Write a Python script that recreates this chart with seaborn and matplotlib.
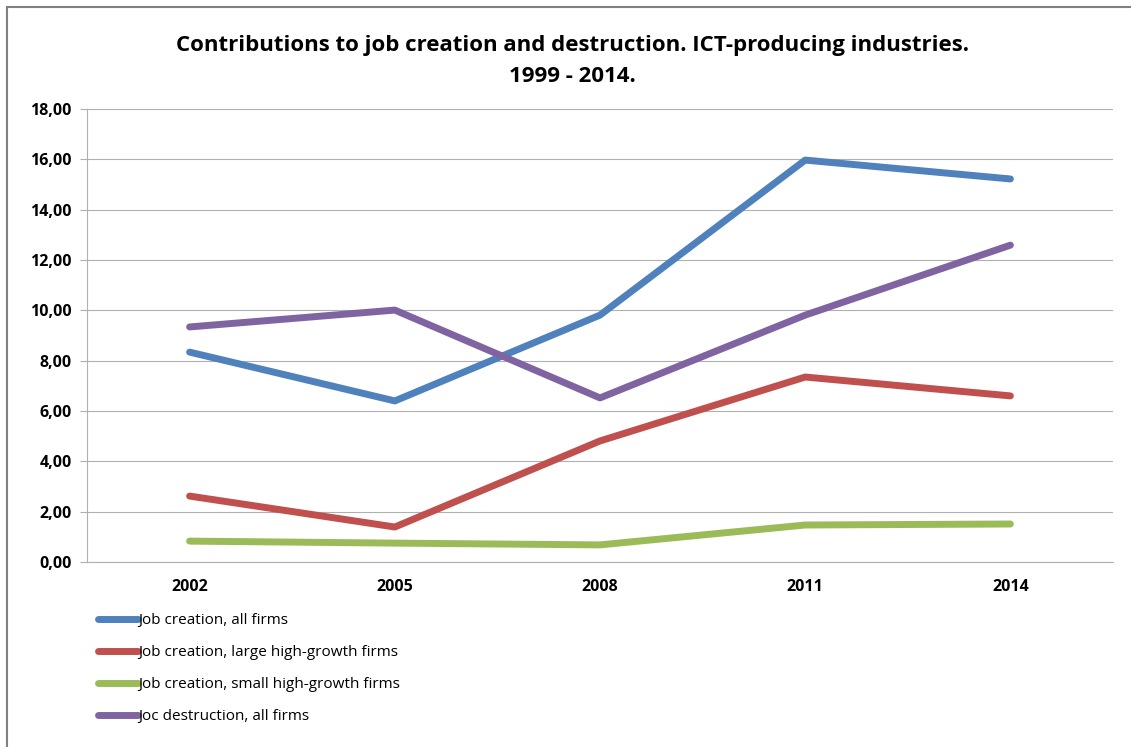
import pandas as pd
import numpy as np
import matplotlib.pyplot as plt
import seaborn as sns
from matplotlib.patches import Rectangle

# dados
anos = ['2002', '2005', '2008', '2011', '2014']
series = ['Job creation, all firms',
          'Job creation, large high-growth firms',
          'Job creation, small high-growth firms',
          'Joc destruction, all firms']
criacao_total = [8.34, 6.40, 9.81, 15.97, 15.22]
criacao_grandes = [2.62, 1.39, 4.81, 7.35, 6.60]
criacao_pequenas = [0.83, 0.75, 0.68, 1.47, 1.51]
destruicao_total = [9.34, 10.01, 6.52, 9.81, 12.59]
cores = ['#4F81BD', '#C0504D', '#9BBB59', '#8064A2']

valores = [criacao_total, criacao_grandes, criacao_pequenas, destruicao_total]
df = pd.DataFrame({
    'pos': np.tile(np.arange(len(anos)), len(series)),
    'valor': np.concatenate(valores),
    'serie': np.repeat(series, len(anos)),
})

sns.set_style('white')
plt.rcParams['font.family'] = ['Open Sans', 'DejaVu Sans']
plt.rcParams['text.color'] = 'black'
plt.rcParams['xtick.color'] = 'black'
plt.rcParams['ytick.color'] = 'black'

fig = plt.figure(figsize=(11.31, 7.47), dpi=100)
ax = fig.add_axes([87 / 1131, 1 - 562 / 747, (1113 - 87) / 1131, (562 - 109) / 747])

sns.lineplot(data=df, x='pos', y='valor', hue='serie', palette=cores,
             linewidth=5, solid_capstyle='round', legend=False, ax=ax)

ax.set_xlim(-0.5, len(anos) - 0.5)
ax.set_ylim(0, 18)
ax.set_yticks(np.arange(0, 18.1, 2))
ax.set_yticklabels([f'{v:.2f}'.replace('.', ',') for v in np.arange(0, 18.1, 2)],
                   fontsize=11.5, fontweight='bold')
ax.set_xticks(range(len(anos)))
ax.set_xticklabels(anos, fontsize=11.5, fontweight='bold')
ax.set_xticks(np.arange(-0.5, len(anos)), minor=True)
ax.tick_params(axis='x', which='major', length=0, pad=12)
ax.tick_params(axis='x', which='minor', length=5, color='#B0B0B0', direction='out')
ax.tick_params(axis='y', length=5, color='#B0B0B0', direction='out', left=True, pad=6)
ax.set_xlabel('')
ax.set_ylabel('')
ax.grid(axis='y', color='#B0B0B0', linewidth=0.8)
ax.set_axisbelow(True)
for lado in ['top', 'right']:
    ax.spines[lado].set_visible(False)
for lado in ['left', 'bottom']:
    ax.spines[lado].set_color('#B0B0B0')
    ax.spines[lado].set_linewidth(0.8)

fig.suptitle('Contributions to job creation and destruction. ICT-producing industries.\n1999 - 2014.',
             x=(180 + 965) / 2 / 1131, y=1 - 35 / 747, fontsize=16, fontweight='bold',
             linespacing=1.6)

handles = [plt.Line2D([], [], color=c, linewidth=5, solid_capstyle='round') for c in cores]
fig.legend(handles, series, loc='upper left', bbox_to_anchor=(92 / 1131, 1 - 607 / 747),
           frameon=False, fontsize=11, handlelength=2.6, handletextpad=0.05,
           labelspacing=1.11, borderaxespad=0)

fig.patches.append(Rectangle((7 / 1131, -0.1), 1.2, 1.1 - 7 / 747, transform=fig.transFigure,
                             fill=False, edgecolor='#808080', linewidth=1.5))

fig.savefig('out.png', dpi=100)
